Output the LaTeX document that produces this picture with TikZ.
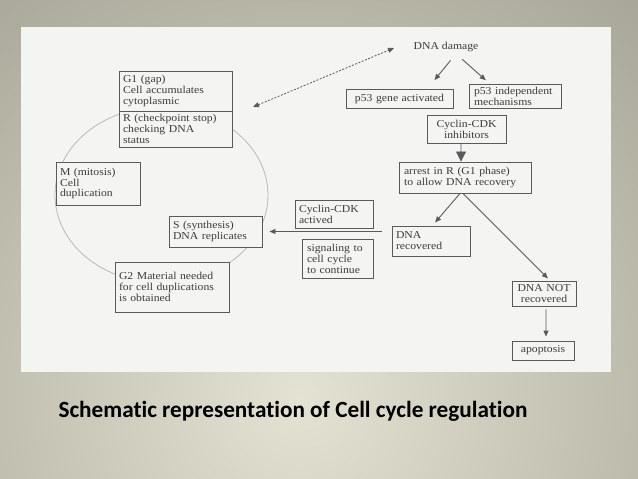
\documentclass[tikz,border=0pt]{standalone}
\usepackage{fontspec}
\setmainfont{Liberation Serif}
\newfontfamily\boxfont[FakeStretch=1.11]{Liberation Serif}
\newfontfamily\titlefont[Ligatures=NoCommon]{Carlito}
\usetikzlibrary{arrows.meta}

\definecolor{bgin}{RGB}{228,226,210}
\definecolor{bgout}{RGB}{148,146,132}
\definecolor{panel}{RGB}{244,244,243}
\definecolor{ink}{RGB}{60,60,60}
\definecolor{rim}{RGB}{90,90,90}
\definecolor{cyc}{RGB}{185,185,185}

\begin{document}
\begin{tikzpicture}[x=1bp, y=-1bp,
  box/.style={draw=rim, fill=panel, line width=0.9bp, align=left, text=ink, inner xsep=4bp, inner ysep=1bp, font=\boxfont\fontsize{10.6}{11}\selectfont},
  cbox/.style={box, align=center},
  arr/.style={draw=rim, line width=0.9bp, -{Triangle[length=6bp,width=5bp]}},
  bigarr/.style={draw=rim, line width=0.9bp, -{Triangle[length=10bp,width=10bp]}}
]
\useasboundingbox (0,0) rectangle (638,479);
% slide background and white panel
\begin{scope}
\clip (0,0) rectangle (638,479);
\shade[inner color=bgin, outer color=bgout] (-400,-300) rectangle (1000,1100);
\end{scope}
\fill[panel] (21,27) rectangle (611,372);
% cell cycle ring
\draw[cyc, line width=0.8bp] (161.5,195) ellipse [x radius=106.5, y radius=88];
% cycle phases (left)
\node[box, text width=105bp, minimum height=40bp] (g1) at (175.5,91) {G1 (gap)\\Cell accumulates\\cytoplasmic};
\node[box, text width=105bp, minimum height=36bp] (r) at (175.5,129) {R (checkpoint stop)\\checking DNA\\status};
\node[box, text width=76bp, minimum height=43bp] (m) at (98,183.5) {M (mitosis)\\Cell\\duplication};
\node[box, text width=85bp, minimum height=31bp] (s) at (215.5,231.5) {S (synthesis)\\DNA replicates};
\node[box, text width=106bp, minimum height=50bp] (g2) at (172,287) {G2 Material needed\\for cell duplications\\is obtained};
% damage response (right)
\node[text=ink, font=\boxfont\fontsize{10.6}{11}\selectfont, inner sep=0pt] (dmg) at (446,47) {DNA damage};
\node[cbox, text width=99bp, minimum height=19bp] (p53a) at (399.5,98.5) {p53 gene activated};
\node[box, text width=82bp, minimum height=24bp, inner xsep=5bp] (p53i) at (515,96) {p53 independent\\mechanisms};
\node[cbox, text width=71bp, minimum height=28bp] (cdki) at (466.5,129) {Cyclin-CDK\\inhibitors};
\node[box, text width=122bp, minimum height=31bp, inner xsep=5bp] (arrest) at (465,177.5) {arrest in R (G1 phase)\\to allow DNA recovery};
\node[box, text width=70bp, minimum height=28bp] (cdka) at (334,214) {Cyclin-CDK\\actived};
\node[box, text width=61bp, minimum height=39bp, inner xsep=5bp] (sig) at (337.5,258.5) {signaling to\\cell cycle\\to continue};
\node[box, text width=70bp, minimum height=30bp] (dnar) at (431,241) {DNA\\recovered};
\node[cbox, text width=58bp, minimum height=25bp, inner xsep=3bp] (dnanot) at (544,293.5) {DNA NOT\\recovered};
\node[cbox, text width=54bp, minimum height=19bp] (apop) at (543,350.5) {apoptosis};
% connectors
\coordinate (dl) at (253,107);
\coordinate (dr) at (394,48);
\coordinate (hr) at (382,231.5);
\draw[rim, line width=0.8bp, dashed, dash pattern=on 2bp off 1.5bp, {Triangle[length=6bp,width=5bp]}-{Triangle[length=6bp,width=5bp]}] (dl) -- (dr);
\draw[arr, shorten <=11bp, shorten >=11bp] ([xshift=11.5bp]dmg.south) -- ([xshift=28bp]p53a.north);
\draw[arr, shorten <=11bp, shorten >=5bp] ([xshift=8bp]dmg.south) -- ([xshift=-25.5bp]p53i.north);
\draw[bigarr] ([xshift=-5.5bp]cdki.south) -- ([xshift=-4bp]arrest.north);
\draw[arr, shorten >=4bp] ([xshift=-5bp]arrest.south) -- ([xshift=1.5bp]dnar.north);
\draw[arr, shorten >=3bp] ([xshift=-2bp]arrest.south) -- ([xshift=6bp]dnanot.north);
\draw[arr, shorten <=3bp, shorten >=4bp] ([xshift=2bp]dnanot.south) -- ([xshift=3bp]apop.north);
\draw[arr, shorten >=7bp] (hr) -- (s.east);
% caption
\node[font=\titlefont\fontsize{23.3}{26}\bfseries\selectfont, text=black] (ttl) at (293,411) {Schematic representation of Cell cycle regulation};
\end{tikzpicture}
\end{document}
